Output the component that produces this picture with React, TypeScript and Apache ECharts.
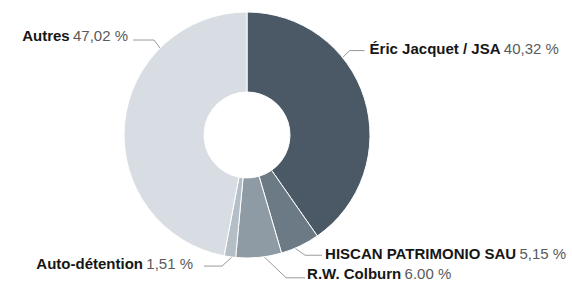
import React, { useEffect, useRef } from "react";
import * as echarts from "echarts";

const names = ["Éric Jacquet / JSA", "HISCAN PATRIMONIO SAU", "R.W. Colburn", "Auto-détention", "Autres"];
const values = [40.32, 5.15, 6.0, 1.51, 47.02];
const valueLabels = ["40,32 %", "5,15 %", "6.00 %", "1,51 %", "47,02 %"];
const colors = ["#4b5967", "#6c7a86", "#8e9ba5", "#b3bec6", "#d8dde3"];

// label guide settings: anchor angle (deg, clockwise from top), elbow offset, horizontal length, text gap, text dy
const guides = [
  { angle: 51, ex: 7, ey: -7, h: 15, gap: 5, dy: -2, side: 1 },
  { angle: 157, ex: 10, ey: 7, h: 17, gap: 3, dy: -1.5, side: 1 },
  { angle: 172, ex: 22, ey: 21, h: 19, gap: 2, dy: -4, side: 1 },
  { angle: 187, ex: -10, ey: 9, h: 18, gap: 11, dy: -3, side: -1 },
  { angle: 315, ex: -6, ey: -8, h: 21, gap: 5, dy: -4.5, side: -1 },
];

const CX = 247;
const CY = 135;
const R_IN = 43;
const R_OUT = 123;

export default function App() {
  const ref = useRef<HTMLDivElement>(null);
  useEffect(() => {
    if (!ref.current) return;
    const chart = echarts.init(ref.current, undefined, { renderer: "svg" });
    chart.setOption({
      animation: false,
      backgroundColor: "#ffffff",
      series: [
        {
          type: "pie",
          center: [CX, CY],
          radius: [R_IN, R_OUT],
          startAngle: 90,
          clockwise: true,
          avoidLabelOverlap: false,
          itemStyle: { borderColor: "#ffffff", borderWidth: 1 },
          label: {
            show: true,
            position: "outer",
            fontFamily: "Liberation Sans, Arial, sans-serif",
            formatter: (p: any) => `{n|${p.name}} {v|${valueLabels[p.dataIndex]}}`,
            rich: {
              n: { fontSize: 15, fontWeight: "bold", color: "#161616", fontFamily: "Liberation Sans, Arial, sans-serif" },
              v: { fontSize: 15, color: "#5a5a5a", fontFamily: "Liberation Sans, Arial, sans-serif" },
            },
          },
          labelLine: { show: true, lineStyle: { color: "#9a9a9a", width: 1 } },
          labelLayout: (params: any) => {
            const g = guides[params.dataIndex];
            const a = (g.angle * Math.PI) / 180;
            const ax = CX + R_OUT * Math.sin(a);
            const ay = CY - R_OUT * Math.cos(a);
            const ex = ax + g.ex;
            const ey = ay + g.ey;
            const hx = ex + g.side * g.h;
            return {
              x: hx + g.side * g.gap,
              y: ey + g.dy,
              align: g.side > 0 ? "left" : "right",
              verticalAlign: "middle",
              labelLinePoints: [
                [ax, ay],
                [ex, ey],
                [hx, ey],
              ],
            };
          },
          data: names.map((n, i) => ({ name: n, value: values[i], itemStyle: { color: colors[i] } })),
        },
      ],
    });
    return () => chart.dispose();
  }, []);
  return <div ref={ref} style={{ position: "fixed", left: 0, top: 0, width: 572, height: 281 }} />;
}
